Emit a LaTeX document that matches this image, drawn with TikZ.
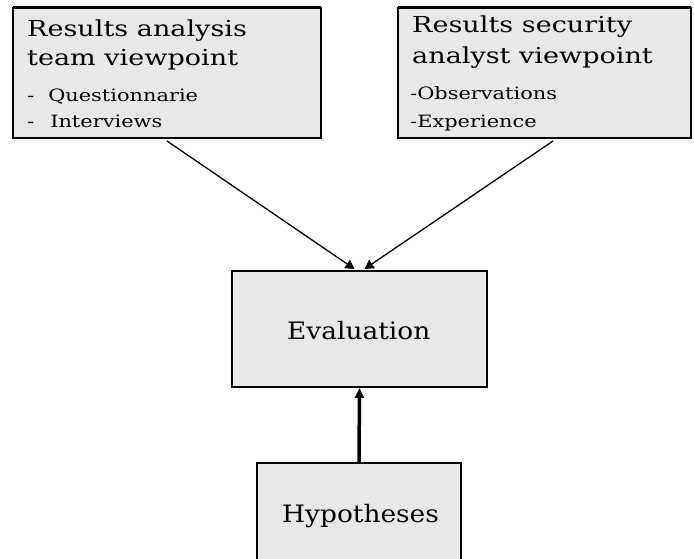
\documentclass[tikz,border=0pt]{standalone}
\usepackage{fontspec}
\setmainfont{DejaVu Serif}
\newfontfamily\widefont[FakeStretch=1.23]{DejaVu Serif}
\newfontfamily\midfont[FakeStretch=1.1]{DejaVu Serif}
\usetikzlibrary{arrows.meta,calc}
\definecolor{boxfill}{RGB}{232,232,232}
\tikzset{
  panel/.style={draw=black, line width=2pt, fill=boxfill, inner sep=0pt, outer sep=0pt},
  headtext/.style={anchor=base west, inner sep=0pt, font=\widefont\fontsize{22}{26}\selectfont},
  itemtext/.style={anchor=base west, inner sep=0pt, font=\widefont\fontsize{17}{20}\selectfont},
  bigtext/.style={anchor=base west, inner sep=0pt, font=\midfont\fontsize{24}{28}\selectfont},
  thinarrow/.style={line width=1.3pt, -{Triangle[length=9pt,width=10pt]}},
  thickarrow/.style={line width=3.5pt, -{Triangle[length=10pt,width=9pt]}}
}
\begin{document}
\begin{tikzpicture}[x=1pt,y=-1pt]
  \useasboundingbox (0,0) rectangle (694,559);
  \clip (0,0) rectangle (694,559);

  % boxes
  \node[panel, minimum width=308pt, minimum height=130pt] (lbox) at (167,73) {};
  \node[panel, minimum width=293pt, minimum height=130pt] (rbox) at (544.5,73) {};
  \node[panel, minimum width=255pt, minimum height=116pt] (eval) at (359.5,329) {};
  \node[panel, minimum width=204pt, minimum height=137pt] (hyp) at (359,531.5) {};

  % heavier top edges of the two upper boxes
  \draw[line width=3pt] (lbox.north west) -- (lbox.north east);
  \draw[line width=3pt] (rbox.north west) -- (rbox.north east);

  % left box text
  \node[headtext] (l1) at (27,37) {Results analysis};
  \node[headtext] (l2) at (27,66) {team viewpoint};
  \node[itemtext] (l3) at (27,102) {-\hspace{14pt}Questionnarie};
  \node[itemtext] (l4) at (27,128) {-\hspace{16pt}Interviews};

  % right box text
  \node[headtext] (r1) at (412,33) {Results security};
  \node[headtext] (r2) at (412,64) {analyst viewpoint};
  \node[itemtext] (r3) at (410,100) {-Observations};
  \node[itemtext] (r4) at (410,128) {-Experience};

  % centre texts
  \node[bigtext] (evtext) at (287,339) {Evaluation};
  \node[bigtext] (hytext) at (282,522) {Hypotheses};

  % connectors
  \draw[thinarrow] (lbox.south) ++(0,3) -- ($(eval.north)+(-5,-2)$);
  \draw[thinarrow] ($(rbox.south)+(8.5,3)$) -- ($(eval.north)+(5,-2)$);
  \draw[thickarrow] (hyp.north) -- ($(eval.south)+(0,1)$);
\end{tikzpicture}
\end{document}
